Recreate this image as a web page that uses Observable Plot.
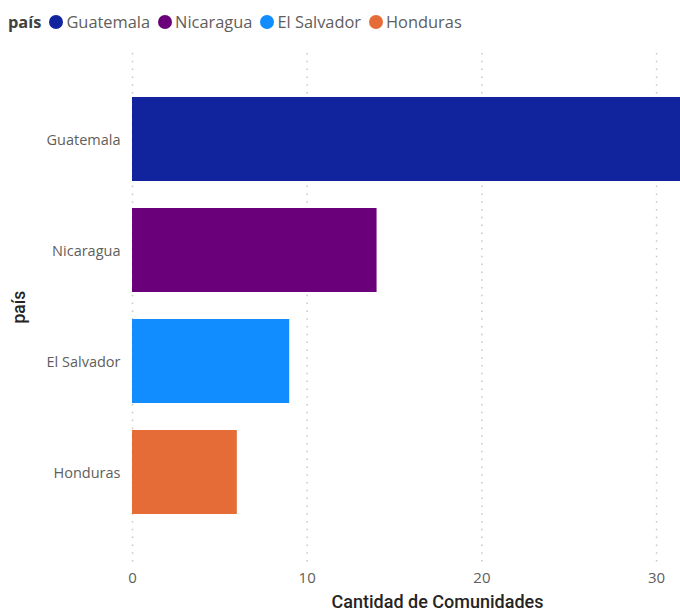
<!DOCTYPE html>
<html>
<head>
<meta charset="utf-8">
<script src="https://cdn.jsdelivr.net/npm/d3@7"></script>
<script src="https://cdn.jsdelivr.net/npm/@observablehq/plot@0.6"></script>
<style>
  body { margin: 0; background: #fff; font-family: "Open Sans", "Noto Sans", sans-serif; }
  #legend { height: 44px; display: flex; align-items: flex-start; padding-left: 8px; padding-top: 11px; font-size: 16.4px; line-height: 22px; color: #605E5C; box-sizing: border-box; }
  #legend .title { font-weight: bold; color: #404040; margin-right: 8px; }
  #legend .item { display: flex; align-items: center; margin-right: 8px; }
  #legend .dot { width: 14px; height: 14px; border-radius: 50%; margin-right: 3px; }
  svg { display: block; }
</style>
</head>
<body>
<div id="legend"></div>
<div id="chart"></div>
<script>
const countries = ["Guatemala", "Nicaragua", "El Salvador", "Honduras"];
const counts = [32, 14, 9, 6];
const colors = ["#12239E", "#6B007B", "#118DFF", "#E66C37"];
const xTicks = [0, 10, 20, 30];
const legendTitle = "país";
const xTitle = "Cantidad de Comunidades";

const data = countries.map((c, i) => ({ pais: c, n: counts[i] }));

// legend
const leg = document.getElementById("legend");
const t = document.createElement("span");
t.className = "title"; t.textContent = legendTitle; leg.appendChild(t);
countries.forEach((c, i) => {
  const it = document.createElement("span"); it.className = "item";
  const d = document.createElement("span"); d.className = "dot"; d.style.background = colors[i];
  const l = document.createElement("span"); l.textContent = c;
  it.appendChild(d); it.appendChild(l); leg.appendChild(it);
});

const chart = Plot.plot({
  width: 680,
  height: 566,
  marginLeft: 132,
  marginRight: 0,
  marginTop: 9,
  marginBottom: 47,
  style: { fontFamily: "'Open Sans', 'Noto Sans', sans-serif", fontSize: "14px", color: "#605E5C", background: "#fff", overflow: "visible" },
  x: { domain: [0, 31.37], ticks: xTicks },
  y: { domain: countries, range: [24.6, 498.2], paddingInner: 0.24, paddingOuter: 0.24 },
  color: { domain: countries, range: colors },
  marks: [
    Plot.gridX(xTicks, { stroke: "#c8c8c8", strokeOpacity: 1, strokeDasharray: "1.5,6.3", strokeWidth: 1.5 }),
    Plot.barX(data, { x: "n", y: "pais", fill: "pais", clip: true }),
    Plot.axisX({ ticks: xTicks, tickSize: 0, tickPadding: 9, label: null, fontSize: 15, fill: "#605E5C" }),
    Plot.axisY({ tickSize: 0, tickPadding: 12, label: null, fontSize: 14.5, fill: "#605E5C", dy: 1 }),
    Plot.text([xTitle], { frameAnchor: "bottom", dx: 31, dy: 44, fontSize: 18, fontWeight: 500, fill: "#252423", fontFamily: "Roboto, sans-serif" }),
    Plot.text([legendTitle], { frameAnchor: "left", dx: -113, dy: 15, rotate: -90, fontSize: 17.5, fontWeight: 500, fill: "#252423", fontFamily: "Roboto, sans-serif" })
  ]
});
document.getElementById("chart").appendChild(chart);
</script>
</body>
</html>
